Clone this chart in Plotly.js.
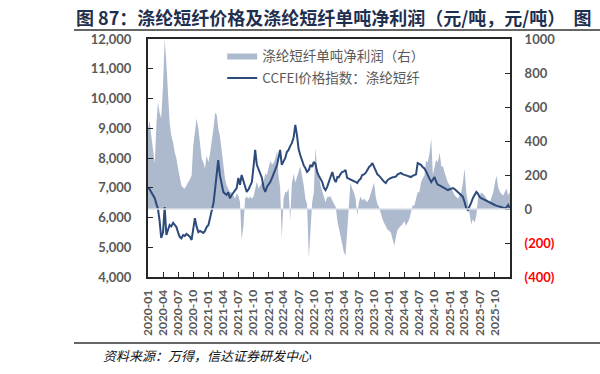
<!DOCTYPE html>
<html>
<head>
<meta charset="utf-8">
<script src="https://cdn.plot.ly/plotly-3.0.1.min.js"></script>
<style>html,body{margin:0;padding:0;background:#fff;}#chart{width:600px;height:374px;}</style>
</head>
<body>
<div id="chart"></div>
<script>
// Sample dates (three per month)
const dates = [
'2020-01-01','2020-01-11','2020-01-21','2020-02-01','2020-02-11','2020-02-21','2020-03-01','2020-03-11','2020-03-21',
'2020-04-01','2020-04-11','2020-04-21','2020-05-01','2020-05-11','2020-05-21','2020-06-01','2020-06-11','2020-06-21',
'2020-07-01','2020-07-11','2020-07-21','2020-08-01','2020-08-11','2020-08-21','2020-09-01','2020-09-11','2020-09-21',
'2020-10-01','2020-10-11','2020-10-21','2020-11-01','2020-11-11','2020-11-21','2020-12-01','2020-12-11','2020-12-21',
'2021-01-01','2021-01-11','2021-01-21','2021-02-01','2021-02-11','2021-02-21','2021-03-01','2021-03-11','2021-03-21',
'2021-04-01','2021-04-11','2021-04-21','2021-05-01','2021-05-11','2021-05-21','2021-06-01','2021-06-11','2021-06-21',
'2021-07-01','2021-07-11','2021-07-21','2021-08-01','2021-08-11','2021-08-21','2021-09-01','2021-09-11','2021-09-21',
'2021-10-01','2021-10-11','2021-10-21','2021-11-01','2021-11-11','2021-11-21','2021-12-01','2021-12-11','2021-12-21',
'2022-01-01','2022-01-11','2022-01-21','2022-02-01','2022-02-11','2022-02-21','2022-03-01','2022-03-11','2022-03-21',
'2022-04-01','2022-04-11','2022-04-21','2022-05-01','2022-05-11','2022-05-21','2022-06-01','2022-06-11','2022-06-21',
'2022-07-01','2022-07-11','2022-07-21','2022-08-01','2022-08-11','2022-08-21','2022-09-01','2022-09-11','2022-09-21',
'2022-10-01','2022-10-11','2022-10-21','2022-11-01','2022-11-11','2022-11-21','2022-12-01','2022-12-11','2022-12-21',
'2023-01-01','2023-01-11','2023-01-21','2023-02-01','2023-02-11','2023-02-21','2023-03-01','2023-03-11','2023-03-21',
'2023-04-01','2023-04-11','2023-04-21','2023-05-01','2023-05-11','2023-05-21','2023-06-01','2023-06-11','2023-06-21',
'2023-07-01','2023-07-11','2023-07-21','2023-08-01','2023-08-11','2023-08-21','2023-09-01','2023-09-11','2023-09-21',
'2023-10-01','2023-10-11','2023-10-21','2023-11-01','2023-11-11','2023-11-21','2023-12-01','2023-12-11','2023-12-21',
'2024-01-01','2024-01-11','2024-01-21','2024-02-01','2024-02-11','2024-02-21','2024-03-01','2024-03-11','2024-03-21',
'2024-04-01','2024-04-11','2024-04-21','2024-05-01','2024-05-11','2024-05-21','2024-06-01','2024-06-11','2024-06-21',
'2024-07-01','2024-07-11','2024-07-21','2024-08-01','2024-08-11','2024-08-21','2024-09-01','2024-09-11','2024-09-21',
'2024-10-01','2024-10-11','2024-10-21','2024-11-01','2024-11-11','2024-11-21','2024-12-01','2024-12-11','2024-12-21',
'2025-01-01','2025-01-11','2025-01-21','2025-02-01','2025-02-11','2025-02-21','2025-03-01','2025-03-11','2025-03-21',
'2025-04-01','2025-04-11','2025-04-21','2025-05-01','2025-05-11','2025-05-21','2025-06-01','2025-06-11','2025-06-21',
'2025-07-01','2025-07-11','2025-07-21','2025-08-01','2025-08-11','2025-08-21','2025-09-01','2025-09-11','2025-09-21',
'2025-10-01','2025-10-11','2025-10-21','2025-11-01','2025-11-11','2025-11-21','2025-12-01','2025-12-11','2025-12-21',
'2026-01-01'
];

// CCFEI price index: polyester staple fiber (yuan/ton, left axis)
const price = [
6990,6950,6850, 6750,6650,6450, 6300,5900,5310,
5500,6350,5410, 5600,5750,5700, 5820,5750,5680,
5500,5350,5300, 5410,5380,5450, 5400,5350,5245,
5600,5980,5700, 5510,5550,5500, 5480,5550,5680,
5750,6000,6190, 6500,6990,7500, 7930,7430,7100,
6860,6800,6760, 6850,6650,6750, 6830,6900,6990,
7330,7100,7430, 7200,6990,6860, 6950,7100,7190,
7700,8270,7770, 7600,7450,7330, 7000,6860,7030,
7100,7200,7330, 7500,7650,7770, 8000,8270,7770,
7900,8000,8200, 8270,8400,8500, 8700,9110,8770,
8300,8100,7900, 7750,7660,7530, 7600,7770,7700,
7870,7800,7530, 7400,7300,7190, 7000,6920,7030,
7200,7400,7530, 7300,7190,7360, 7350,7450,7530,
7550,7600,7330, 7300,7260,7250, 7220,7200,7160,
7250,7300,7430, 7450,7500,7600, 7700,7750,7830,
7700,7600,7450, 7400,7330,7250, 7200,7160,7250,
7300,7330,7350, 7360,7380,7450, 7480,7500,7460,
7430,7420,7400, 7380,7360,7400, 7420,7450,7830,
7800,7770,7700, 7650,7550,7400, 7300,7190,7300,
7360,7200,7100, 7080,7050,7030, 7000,6970,6920,
6950,6980,6990, 6950,6900,6860, 6820,6780,6700,
6520,6300,6250, 6350,6500,6650, 6750,6860,6800,
6690,6650,6620, 6590,6560,6520, 6490,6470,6450,
6420,6400,6380, 6350,6340,6330, 6320,6340,6420,
6300
];

// Net profit per ton of polyester staple fiber (yuan/ton, right axis)
const profit = [
470,520,430, 330,268,500, 626,567,532,
726,1000,860, 667,508,432, 391,332,297,
238,179,138, 125,120,140, 156,175,197,
373,450,532, 473,373,297, 273,238,314,
273,330,391, 480,567,550, 473,432,355,
238,179,140, 120,100,97, 80,62,90,
80,40,-180, -100,62,74, 60,74,60,
74,120,160, 120,140,156, 160,208,200,
240,285,260, 273,300,344, 197,130,-170,
62,100,97, 120,-70,150, 208,156,190,
215,250,197, 140,60,30, -290,-80,40,
97,361,238, 197,138,100, 62,40,70,
70,74,50, 30,10,-70, -110,-173,-220,
-255,-275,-130, -40,156,120, 97,60,-40,
40,74,50, 60,50,40, 60,97,120,
156,70,30, 10,-30,-60, -82,-100,-120,
-130,-140,-180, -214,-160,-120, -110,-100,-90,
-70,-100,-80, -60,-20,20, 20,60,100,
97,156,180, 197,285,273, 330,414,200,
250,290,273, 332,250,250, 215,180,156,
140,120,100, 80,70,60, 80,97,150,
238,100,30, -40,-90,-60, -80,-40,60,
80,97,90, 80,60,50, 40,70,97,
150,197,130, 100,90,80, 100,120,80,
100
];

const xTickVals = ['2020-01-01','2020-04-01','2020-07-01','2020-10-01','2021-01-01','2021-04-01','2021-07-01','2021-10-01',
'2022-01-01','2022-04-01','2022-07-01','2022-10-01','2023-01-01','2023-04-01','2023-07-01','2023-10-01',
'2024-01-01','2024-04-01','2024-07-01','2024-10-01','2025-01-01','2025-04-01','2025-07-01','2025-10-01'];
const xTickText = ['2020-01','2020-04','2020-07','2020-10','2021-01','2021-04','2021-07','2021-10',
'2022-01','2022-04','2022-07','2022-10','2023-01','2023-04','2023-07','2023-10',
'2024-01','2024-04','2024-07','2024-10','2025-01','2025-04','2025-07','2025-10'];
const rightTickVals = [1000,800,600,400,200,0,-200,-400];
const rightTickText = ['1000','800','600','400','200','0',
  '<span style="color:#ff0000">(200)</span>','<span style="color:#ff0000">(400)</span>'];

const seriesNames = ['涤纶短纤单吨净利润（右）','CCFEI价格指数：涤纶短纤'];

const traces = [
  {
    x: dates, y: profit, name: seriesNames[0], type: 'scatter', mode: 'lines',
    fill: 'tozeroy', fillcolor: '#adb9cd', line: {width: 0, color: '#adb9cd'},
    yaxis: 'y', legendgroup: 'a', hoverinfo: 'skip'
  },
  {
    x: dates, y: price, name: seriesNames[1], type: 'scatter', mode: 'lines',
    line: {width: 2, color: '#2c4a7c'},
    yaxis: 'y2', legendgroup: 'b', hoverinfo: 'skip'
  }
];

const tickFont = {family: 'Lato, "Liberation Sans", sans-serif', size: 13, color: '#595959', weight: 'bold'};
const axisLine = '#262626';

const layout = {
  width: 600, height: 374,
  margin: {l: 148, r: 90, t: 39, b: 97, pad: 0},
  paper_bgcolor: '#ffffff', plot_bgcolor: '#ffffff',
  showlegend: true,
  legend: {
    x: 0.205, y: 0.995, xanchor: 'left', yanchor: 'top',
    bgcolor: 'rgba(0,0,0,0)', borderwidth: 0,
    font: {family: '"Noto Sans CJK SC", sans-serif', size: 13.5, color: '#595959'},
    traceorder: 'grouped', tracegroupgap: 2, itemwidth: 30
  },
  title: {
    text: '图 87：涤纶短纤价格及涤纶短纤单吨净利润（元/吨，元/吨）  图',
    font: {family: '"Noto Sans CJK SC", sans-serif', size: 18, color: '#1f2f4f', weight: 'bold'},
    xref: 'container', yref: 'container', x: 76/600, xanchor: 'left', y: 1 - 19/374, yanchor: 'middle'
  },
  xaxis: {
    type: 'date', range: ['2020-01-01', '2026-01-01'],
    tickvals: xTickVals, ticktext: xTickText, tickangle: -90,
    ticks: 'inside', ticklen: 5, tickwidth: 1, tickcolor: axisLine,
    showline: true, linecolor: axisLine, linewidth: 2, mirror: true,
    showgrid: false, zeroline: false,
    tickfont: {family: 'Lato, "Liberation Sans", sans-serif', size: 12, color: '#595959', weight: 'bold'},
    ticklabelstandoff: 6
  },
  yaxis: {
    side: 'right', range: [-400, 1000],
    tickvals: rightTickVals, ticktext: rightTickText,
    ticks: 'inside', ticklen: 5, tickwidth: 1, tickcolor: axisLine,
    showline: true, linecolor: axisLine, linewidth: 2,
    showgrid: false, zeroline: false,
    tickfont: tickFont, ticklabelstandoff: 10
  },
  yaxis2: {
    overlaying: 'y', side: 'left', range: [4000, 12000], dtick: 1000, tick0: 4000,
    tickformat: ',d',
    ticks: 'inside', ticklen: 5, tickwidth: 1, tickcolor: axisLine,
    showline: true, linecolor: axisLine, linewidth: 2,
    showgrid: false, zeroline: false,
    tickfont: tickFont, ticklabelstandoff: 12
  },
  shapes: [
    {type: 'line', xref: 'paper', yref: 'y', x0: 0, x1: 1, y0: 0, y1: 0,
     line: {color: '#dde2ea', width: 1.5}, layer: 'above'},
    {type: 'line', xref: 'paper', yref: 'paper', x0: (74-148)/362, x1: (600-148)/362,
     y0: (277-30)/238, y1: (277-30)/238, line: {color: '#333333', width: 1.5}},
    {type: 'line', xref: 'paper', yref: 'paper', x0: (74-148)/362, x1: (600-148)/362,
     y0: -(343-277)/238, y1: -(343-277)/238, line: {color: '#333333', width: 1.5}}
  ],
  annotations: [
    {text: '资料来源：万得，信达证券研发中心', xref: 'paper', yref: 'paper',
     x: (101-148)/362, y: -(355-277)/238, xanchor: 'left', yanchor: 'middle', showarrow: false,
     font: {family: '"Noto Sans CJK SC", sans-serif', size: 13, color: '#111111', style: 'italic'}}
  ]
};

Plotly.newPlot('chart', traces, layout, {displayModeBar: false, staticPlot: true});
</script>
</body>
</html>
